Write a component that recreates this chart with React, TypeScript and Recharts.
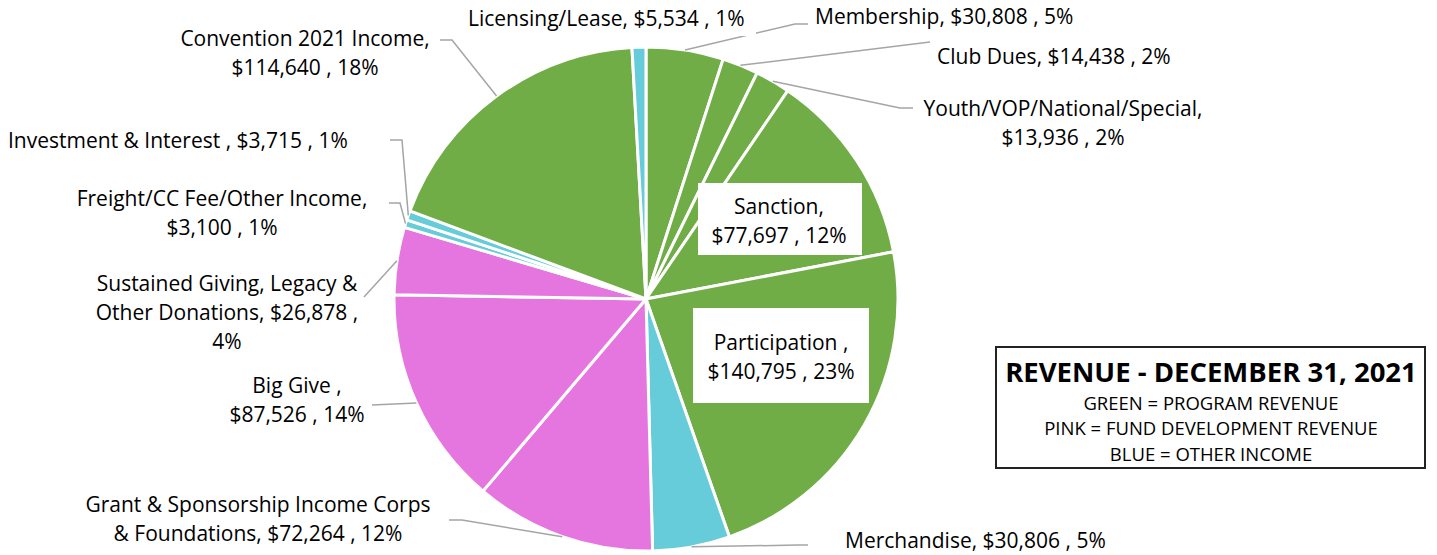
import { Cell, Pie, PieChart } from "recharts";

const categories = [
  "Membership",
  "Club Dues",
  "Youth/VOP/National/Special",
  "Sanction",
  "Participation",
  "Merchandise",
  "Grant & Sponsorship Income Corps & Foundations",
  "Big Give",
  "Sustained Giving, Legacy & Other Donations",
  "Freight/CC Fee/Other Income",
  "Investment & Interest",
  "Convention 2021 Income",
  "Licensing/Lease",
];
const amounts = [30808, 14438, 13936, 77697, 140795, 30806, 72264, 87526, 26878, 3100, 3715, 114640, 5534];
// percentages as printed on the chart labels
const percents = [5, 2, 2, 12, 23, 5, 12, 14, 4, 1, 1, 18, 1];
const groups = [
  "program", "program", "program", "program", "program", "other",
  "fund", "fund", "fund", "other", "other", "program", "other",
];
// label text, {v} = amount, {p} = percent
const labelLines = [
  ["Membership, {v} , {p}"],
  ["Club Dues, {v} , {p}"],
  ["Youth/VOP/National/Special,", "{v} , {p}"],
  ["Sanction,", "{v} , {p}"],
  ["Participation ,", "{v} , {p}"],
  ["Merchandise, {v} , {p}"],
  ["Grant & Sponsorship Income Corps", "& Foundations, {v} , {p}"],
  ["Big Give ,", "{v} , {p}"],
  ["Sustained Giving, Legacy &", "Other Donations, {v} ,", "{p}"],
  ["Freight/CC Fee/Other Income,", "{v} , {p}"],
  ["Investment & Interest , {v} , {p}"],
  ["Convention 2021 Income,", "{v} , {p}"],
  ["Licensing/Lease, {v} , {p}"],
];
const legendTitle = "REVENUE - DECEMBER 31, 2021";
const legendLines = ["GREEN = PROGRAM REVENUE", "PINK = FUND DEVELOPMENT REVENUE", "BLUE = OTHER INCOME"];

const COLORS: Record<string, string> = {
  program: "#70AD47",
  fund: "#E676DF",
  other: "#66CCDA",
};

const FONT = "'Open Sans', sans-serif";
const LINE_H = 29;

type Layout = {
  x: number;
  y: number;
  anchor: "start" | "middle" | "end";
  leader?: number[][];
  box?: number[];
};

// hand-placed label spots, like the dragged labels in the original
const layout: Layout[] = [
  { x: 815, y: 16, anchor: "start", leader: [[795, 24], [808, 24]] },
  { x: 937, y: 56, anchor: "start", leader: [[930, 42]] },
  { x: 1063, y: 108, anchor: "middle", leader: [[900, 108], [913, 108]] },
  { x: 779, y: 206, anchor: "middle", box: [698, 183, 164, 72] },
  { x: 781, y: 342, anchor: "middle", box: [693, 308, 176, 95] },
  { x: 845, y: 540, anchor: "start", leader: [[798, 545], [808, 545]] },
  { x: 258, y: 504, anchor: "middle", leader: [[462, 520], [449, 520]] },
  { x: 297, y: 385, anchor: "middle", leader: [[372, 405]] },
  { x: 227, y: 283, anchor: "middle", leader: [[364, 297]] },
  { x: 222, y: 198, anchor: "middle", leader: [[400, 203], [389, 203]] },
  { x: 8, y: 140, anchor: "start", leader: [[402, 140], [390, 140]] },
  { x: 305, y: 38, anchor: "middle", leader: [[452, 40], [440, 40]] },
  { x: 468, y: 18, anchor: "start", box: [462, 3, 294, 33] },
];

const data = categories.map((name, i) => ({ name, value: amounts[i] }));

const money = (v: number) => "$" + v.toLocaleString("en-US");
const RAD = Math.PI / 180;

function SliceLabel(props: any) {
  const { cx, cy, midAngle, outerRadius, index } = props;
  const spot = layout[index];
  const lines = labelLines[index].map((t) =>
    t.replace("{v}", money(amounts[index])).replace("{p}", percents[index] + "%")
  );
  const sx = cx + outerRadius * Math.cos(-midAngle * RAD);
  const sy = cy + outerRadius * Math.sin(-midAngle * RAD);
  const pts = spot.leader ? [[sx, sy], ...spot.leader] : null;
  return (
    <g>
      {pts && (
        <polyline
          points={pts.map((p) => p.join(",")).join(" ")}
          fill="none"
          stroke="#A5A5A5"
          strokeWidth={1.5}
        />
      )}
      {spot.box && (
        <rect x={spot.box[0]} y={spot.box[1]} width={spot.box[2]} height={spot.box[3]} fill="#fff" />
      )}
      {lines.map((line, i) => (
        <text
          key={i}
          x={spot.x}
          y={spot.y + i * LINE_H}
          textAnchor={spot.anchor}
          dominantBaseline="central"
          fontFamily={FONT}
          fontSize={21}
          fill="#000"
        >
          {line}
        </text>
      ))}
    </g>
  );
}

export default function App() {
  return (
    <div style={{ position: "absolute", left: 0, top: 0, width: 1437, height: 555, background: "#fff" }}>
      <PieChart width={1437} height={555} margin={{ top: 0, right: 0, bottom: 0, left: 0 }}>
        <Pie
          data={data}
          dataKey="value"
          nameKey="name"
          cx={646}
          cy={299}
          outerRadius={252}
          startAngle={90}
          endAngle={-270}
          stroke="#fff"
          strokeWidth={3}
          label={SliceLabel}
          labelLine={false}
          isAnimationActive={false}
        >
          {data.map((d, i) => (
            <Cell key={d.name} fill={COLORS[groups[i]]} />
          ))}
        </Pie>
      </PieChart>
      <svg
        width={1437}
        height={555}
        style={{ position: "absolute", left: 0, top: 0, pointerEvents: "none" }}
      >
        <rect x={996} y={347} width={429} height={121} fill="#fff" stroke="#222" strokeWidth={2} />
        <text
          x={1211}
          y={371}
          textAnchor="middle"
          dominantBaseline="central"
          fontFamily={FONT}
          fontWeight={700}
          fontSize={27.5}
        >
          {legendTitle}
        </text>
        {legendLines.map((l, i) => (
          <text
            key={l}
            x={1211}
            y={402 + i * 25.5}
            textAnchor="middle"
            dominantBaseline="central"
            fontFamily={FONT}
            fontSize={18.5}
          >
            {l}
          </text>
        ))}
      </svg>
    </div>
  );
}
